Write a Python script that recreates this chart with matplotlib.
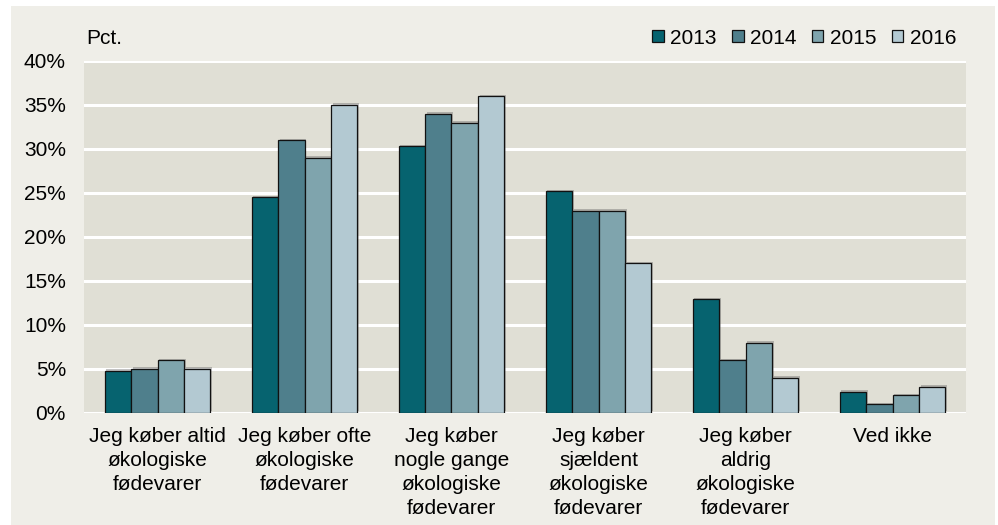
import matplotlib
matplotlib.use("Agg")
import matplotlib.pyplot as plt
import matplotlib.patheffects as pe
from matplotlib.patches import Rectangle, Patch
import numpy as np

plt.rcParams['font.family'] = ['Liberation Sans', 'DejaVu Sans']

categories = [
    "Jeg køber altid\nøkologiske\nfødevarer",
    "Jeg køber ofte\nøkologiske\nfødevarer",
    "Jeg køber\nnogle gange\nøkologiske\nfødevarer",
    "Jeg køber\nsjældent\nøkologiske\nfødevarer",
    "Jeg køber\naldrig\nøkologiske\nfødevarer",
    "Ved ikke",
]
years = ["2013", "2014", "2015", "2016"]
v2013 = [4.8, 24.5, 30.3, 25.2, 12.9, 2.4]
v2014 = [5.0, 31.0, 34.0, 23.0, 6.0, 1.0]
v2015 = [6.0, 29.0, 33.0, 23.0, 8.0, 2.0]
v2016 = [5.0, 35.0, 36.0, 17.0, 4.0, 3.0]
series = [v2013, v2014, v2015, v2016]
colors = ["#06636f", "#4f7f8c", "#7fa4ad", "#b3c9d2"]
yticks = [0, 5, 10, 15, 20, 25, 30, 35, 40]

FS = 15
W, H = 998, 525
fig = plt.figure(figsize=(W / 100, H / 100), dpi=100, facecolor="white")
# light panel
fig.patches.append(Rectangle((11 / W, 0), (995 - 11) / W, (525 - 6) / H,
                             transform=fig.transFigure, facecolor="#efeee8",
                             edgecolor="none", zorder=-10))

ax = fig.add_axes([84 / W, (525 - 413) / H, (966 - 84) / W, (413 - 61) / H])
ax.set_zorder(5)
ax.set_facecolor("#e0dfd5")
ax.set_ylim(0, 40)
x = np.arange(len(categories))
ax.set_xlim(-0.5, len(categories) - 0.5)
bw = 0.18
for i, (vals, c) in enumerate(zip(series, colors)):
    bars = ax.bar(x + (i - 1.5) * bw, vals, width=bw, color=c,
                  edgecolor="#111111", linewidth=0.9, zorder=3)
    for b in bars:
        b.set_path_effects([pe.SimplePatchShadow(offset=(1.2, 1.2), alpha=0.35, shadow_rgbFace="#555555"),
                            pe.Normal()])

ax.set_yticks(yticks)
ax.set_yticklabels([f"{t}%" for t in yticks], fontsize=FS)
ax.set_xticks(x)
ax.set_xticklabels(categories, fontsize=FS, linespacing=1.33, va="top")
ax.tick_params(axis="y", length=0, pad=13)
ax.tick_params(axis="x", length=0, pad=10)
ax.grid(axis="y", color="white", linewidth=2.2, zorder=1)
ax.set_axisbelow(True)
for s in ax.spines.values():
    s.set_visible(False)
ax.axhline(0, color="white", linewidth=2.2, zorder=2)

fig.text(86 / W, 1 - 38 / H, "Pct.", fontsize=FS, va="center", ha="left")

handles = [Patch(facecolor=c, edgecolor="#111111", linewidth=0.9) for c in colors]
fig.legend(handles, years, loc="center right", bbox_to_anchor=(956 / W, 1 - 38 / H),
           ncol=4, frameon=False, fontsize=FS, handlelength=0.55, handleheight=0.55,
           handletextpad=0.3, columnspacing=0.75, borderaxespad=0, borderpad=0)

fig.savefig("out.png", dpi=100, facecolor=fig.get_facecolor())
